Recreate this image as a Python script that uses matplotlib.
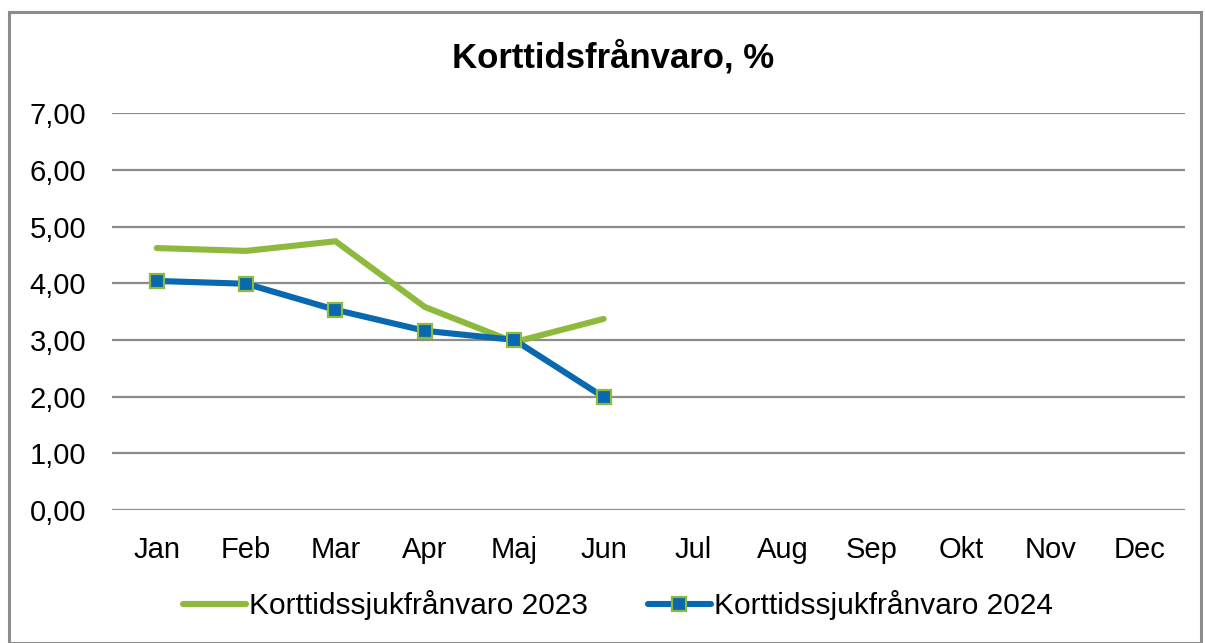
import matplotlib
matplotlib.use("Agg")
import matplotlib.pyplot as plt
from matplotlib.patches import Rectangle

months = ["Jan", "Feb", "Mar", "Apr", "Maj", "Jun", "Jul", "Aug", "Sep", "Okt", "Nov", "Dec"]
values_2023 = [4.62, 4.57, 4.74, 3.58, 2.96, 3.37]
values_2024 = [4.04, 3.99, 3.53, 3.16, 3.00, 1.99]
yticks = [0, 1, 2, 3, 4, 5, 6, 7]

plt.rcParams['font.family'] = ['Liberation Sans', 'DejaVu Sans']

green = "#8DBA3C"
blue = "#0868B0"

fig = plt.figure(figsize=(12.05, 6.43), dpi=100)
ax = fig.add_axes([0.093, 0.207, 0.890, 0.617])

x_all = list(range(len(months)))
ax.plot(x_all[:len(values_2023)], values_2023, color=green, lw=4.4,
        solid_capstyle='round', solid_joinstyle='miter', label="Korttidssjukfrånvaro 2023", zorder=3)
ax.plot(x_all[:len(values_2024)], values_2024, color=blue, lw=4.4,
        solid_capstyle='round', marker='s', markersize=9.5, markerfacecolor=blue,
        markeredgecolor=green, markeredgewidth=1.6, label="Korttidssjukfrånvaro 2024", zorder=4)

ax.set_xlim(-0.5, len(months) - 0.5)
ax.set_ylim(0, 7)
ax.set_yticks(yticks)
ax.set_yticklabels([f"{v:.2f}".replace(".", ",") for v in yticks], fontsize=21)
ax.set_xticks(x_all)
ax.set_xticklabels(months, fontsize=21)
ax.tick_params(axis='both', length=0)
ax.tick_params(axis='y', pad=18.5)
ax.tick_params(axis='x', pad=19)
ax.grid(axis='y', color='#8C8C8C', lw=1.6)
ax.set_axisbelow(True)
for s in ax.spines.values():
    s.set_visible(False)

fig.text(0.509, 0.911, "Korttidsfrånvaro, %", ha='center', va='center', fontsize=25, fontweight='bold')

leg = fig.legend(loc='center', bbox_to_anchor=(0.513, 0.059), ncol=2, frameon=False, fontsize=21.5,
                 handlelength=2.1, handletextpad=0.12, columnspacing=2.0)

fig.patches.append(Rectangle((0.0075, 0.0), 0.989, 0.982, transform=fig.transFigure,
                             fill=False, edgecolor='#8C8C8C', lw=2.2))

fig.savefig("out.png", dpi=100)
